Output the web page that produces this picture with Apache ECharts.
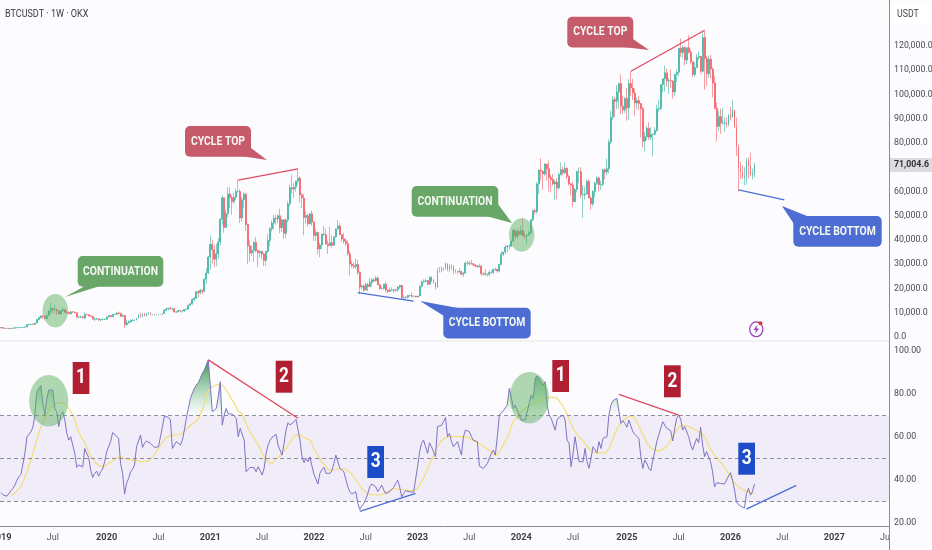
<!DOCTYPE html>
<html><head><meta charset="utf-8">
<style>html,body{margin:0;padding:0;background:#fcfbfe}#c{width:932px;height:550px}</style>
<script src="https://cdn.jsdelivr.net/npm/echarts@6/dist/echarts.min.js"></script>
</head><body><div id="c"></div>
<script>
// weekly candles, thousands of USDT, week 0 = 2018-12-31
const firstOpen = 3.7;
const closes = [
3.9,3.6,3.55,3.55,3.45,3.65,3.6,3.85,3.85,3.9,
3.95,3.98,4.1,5.05,5.15,5.3,5.15,5.75,7.2,8.0,
8.7,8.55,7.6,8.9,10.7,11.9,11.3,11.4,10.8,9.5,
10.8,11.3,10.2,10.1,9.6,10.4,10.3,10.0,8.2,8.2,
8.3,7.95,9.25,9.2,8.8,8.5,7.3,7.4,7.5,7.1,
7.2,7.25,7.35,8.2,8.9,8.35,9.3,9.35,9.9,9.7,
8.5,8.9,5.2,5.8,6.2,6.8,6.9,7.0,7.7,8.8,
8.7,9.3,8.7,9.45,9.7,9.3,9.3,9.0,9.1,9.3,
9.2,9.7,11.0,11.6,11.9,11.6,11.7,10.3,10.3,10.9,
10.7,10.7,11.3,11.5,13.1,13.7,15.5,16.0,18.7,18.2,
19.2,18.8,23.8,26.4,33.0,38.2,36.0,32.1,34.3,39.2,
48.6,57.4,45.2,50.9,59.0,57.4,55.8,57.6,60.0,60.0,
49.1,56.6,58.9,46.4,37.5,34.6,35.8,39.0,35.6,34.7,
35.3,34.2,31.5,35.4,39.8,44.6,47.0,49.0,48.8,50.0,
45.0,48.3,42.7,48.2,54.9,61.5,61.0,61.8,64.3,65.5,
58.6,57.3,49.3,50.1,46.7,50.8,47.3,41.9,43.1,36.3,
37.9,42.4,42.2,38.4,37.7,38.9,37.8,41.3,44.5,45.8,
42.2,40.4,39.5,38.5,34.3,30.1,29.4,29.0,29.9,26.6,
20.6,21.0,19.3,21.6,20.8,22.6,23.6,23.2,24.3,21.5,
20.0,20.0,21.8,19.4,18.8,19.3,19.4,19.3,19.6,20.6,
21.3,16.3,16.3,16.4,17.1,17.1,16.8,16.8,16.5,16.9,
20.9,22.7,23.0,23.3,21.8,24.6,23.2,22.4,20.5,27.4,
27.5,28.4,28.3,30.3,27.8,29.2,28.8,26.9,27.1,26.9,
27.1,25.9,26.3,30.5,30.5,30.3,30.3,29.8,29.3,29.0,
29.3,26.1,26.1,25.8,25.8,26.6,26.6,27.9,27.9,27.2,
29.9,34.1,35.0,37.1,37.4,37.4,39.5,44.0,41.4,43.6,
42.3,43.9,41.7,41.6,42.0,43.0,48.3,52.1,51.7,63.1,
68.9,68.4,67.2,71.3,69.4,65.7,64.9,63.1,63.9,61.5,
67.0,69.0,67.7,69.6,66.2,63.2,62.7,55.8,60.8,68.2,
68.2,58.7,58.7,59.0,64.2,57.3,54.9,60.0,63.4,65.6,
62.8,62.9,69.0,68.0,69.4,80.4,90.6,97.9,97.2,101.1,
104.5,95.2,93.7,98.4,94.5,104.5,102.7,100.6,96.5,97.5,
96.3,94.2,80.7,82.6,86.1,82.4,83.5,83.7,85.2,94.0,
94.3,104.1,106.5,109.0,105.6,105.7,105.5,101.0,108.3,109.2,
119.1,117.3,119.4,114.2,119.3,117.4,113.5,108.2,111.1,115.3,
115.7,109.6,123.5,114.8,108.6,114.5,110.5,104.7,94.3,86.8,
90.9,88.2,88.2,88.3,87.5,91.5,90.6,93.6,86.6,78.6,
69.5,68.0,66.0,66.5,72.8,70.5,66.8,67.5,71.0046];
const highs = [
4.05,4.1,3.7,3.65,3.6,3.7,3.7,4.2,3.95,3.95,
4.0,4.05,4.3,5.3,5.4,5.4,5.6,5.85,7.5,8.4,
8.95,9.1,8.8,9.1,11.2,13.9,12.0,13.2,11.1,10.9,
11.0,12.3,11.5,10.9,10.6,10.8,10.5,10.4,10.1,8.5,
8.7,8.5,10.4,9.5,9.4,8.9,8.6,7.9,7.8,7.6,
7.5,7.7,7.6,8.5,8.95,8.9,9.5,9.6,10.2,10.5,
10.0,9.2,8.9,6.9,6.9,7.3,7.4,7.3,7.8,9.4,
10.1,9.9,9.9,9.9,10.4,10.2,9.6,9.5,9.3,9.5,
9.4,9.8,11.4,12.1,12.1,12.5,11.8,12.0,10.6,11.1,
11.0,10.9,11.5,11.7,13.3,14.0,15.9,16.5,18.9,19.4,
19.9,19.5,24.2,28.4,33.4,41.9,40.0,37.9,38.5,40.9,
48.9,58.4,57.5,52.6,61.8,61.8,58.4,59.5,61.2,64.9,
61.0,57.9,59.6,59.5,46.7,39.9,37.9,39.5,41.3,36.0,
36.0,35.1,34.7,35.5,42.5,45.3,48.2,50.5,50.5,50.5,
52.9,48.8,48.5,49.0,56.0,62.9,67.0,63.6,64.3,69.0,
66.3,59.5,59.0,51.9,50.8,51.0,52.1,47.9,44.4,43.5,
38.9,42.6,45.8,44.7,39.8,45.4,42.0,41.5,44.9,48.2,
47.0,42.4,42.9,40.8,39.9,35.5,31.4,30.7,32.4,31.8,
27.0,21.7,21.9,22.4,22.4,24.3,24.2,24.2,25.2,25.0,
21.8,20.6,21.9,22.7,19.7,20.4,20.5,19.9,19.7,21.0,
21.0,21.5,17.2,16.8,17.4,17.4,18.4,16.9,17.0,17.0,
21.3,23.3,23.8,24.2,23.4,25.2,25.0,23.9,22.2,28.5,
28.9,29.2,28.6,30.8,30.3,30.1,29.9,29.7,28.0,27.2,
28.4,27.1,26.8,31.0,31.4,31.5,31.8,30.2,29.9,29.7,
30.2,29.7,26.8,28.1,26.2,27.5,27.4,28.0,28.6,28.0,
30.3,35.3,35.0,38.0,37.9,38.4,40.2,44.7,43.4,44.7,
44.0,45.9,49.0,43.0,42.2,43.8,48.5,52.8,52.9,64.0,
69.0,73.7,68.0,71.8,71.0,72.7,66.9,67.2,64.7,65.5,
67.7,71.9,70.4,72.0,70.0,66.9,63.4,63.9,61.5,68.5,
69.9,70.0,62.7,61.8,65.0,65.0,58.0,60.6,64.0,66.3,
66.0,64.5,69.4,69.5,73.6,81.5,93.3,99.5,99.0,103.9,
105.0,108.3,99.5,98.9,102.7,106.3,109.6,106.5,102.5,98.8,
99.5,96.5,95.0,84.5,87.0,88.6,86.5,84.0,86.5,95.7,
97.9,104.2,105.8,111.9,110.7,106.8,110.3,106.0,108.5,110.5,
119.2,123.2,120.2,119.8,119.3,124.4,118.5,113.4,113.4,116.7,
117.9,115.5,125.7,126.3,115.9,116.0,116.4,111.2,107.5,96.7,
93.1,94.2,94.5,90.6,90.5,92.0,94.8,97.9,90.4,90.5,
79.4,72.3,70.8,70.0,73.8,74.0,76.0,69.5,72.0];
const lows = [
3.65,3.55,3.5,3.5,3.35,3.4,3.55,3.6,3.7,3.7,
3.8,3.9,3.95,4.1,4.9,5.0,5.1,5.1,5.7,6.9,
7.5,7.45,7.45,7.5,8.9,9.7,9.7,10.0,9.1,9.2,
9.2,10.3,9.8,9.5,9.3,9.4,9.9,9.9,7.7,7.7,
7.8,7.6,7.3,9.0,8.4,8.4,7.2,6.5,7.0,6.5,
6.4,7.0,6.9,7.2,8.1,8.2,8.3,9.1,9.1,9.3,
8.4,8.4,3.8,4.4,5.7,5.9,6.5,6.5,6.8,7.6,
8.1,8.2,8.6,8.6,9.2,8.9,8.9,8.9,8.9,8.9,
9.0,9.1,9.6,10.7,10.95,11.3,11.1,10.1,9.9,10.2,
10.1,10.1,10.5,11.2,11.4,12.9,13.3,14.7,15.7,16.2,
17.6,17.6,18.7,21.9,25.9,27.7,30.3,28.8,29.2,32.3,
37.9,46.2,43.0,45.0,49.3,53.2,50.4,54.9,56.5,59.5,
47.0,47.5,53.2,43.8,30.0,31.0,33.4,31.0,34.8,28.8,
32.7,32.1,29.3,29.3,34.7,37.3,43.5,44.4,46.3,46.9,
42.8,43.3,40.6,40.8,47.2,53.9,58.9,57.3,60.0,62.8,
55.5,53.2,42.0,46.8,45.5,46.4,46.0,39.6,39.6,34.0,
32.9,36.3,41.6,38.0,34.3,37.5,37.0,37.6,40.9,44.9,
42.0,39.3,38.5,37.5,33.6,25.4,28.6,28.1,28.1,25.7,
17.6,19.6,18.6,19.3,18.9,20.7,20.7,22.4,22.8,21.3,
19.5,19.5,19.5,18.3,18.1,18.5,19.0,18.2,18.7,18.6,
20.0,15.6,15.5,15.5,16.0,16.7,16.3,16.4,16.3,16.4,
17.0,20.4,22.3,22.6,21.4,21.5,22.7,22.0,19.6,20.3,
26.6,26.6,27.2,27.8,27.1,26.9,27.7,25.8,26.3,25.9,
26.5,25.4,24.8,26.2,29.5,29.5,29.7,29.2,28.9,28.6,
28.7,25.2,25.4,25.3,24.9,25.0,26.0,26.0,27.2,26.5,
26.8,29.7,33.4,34.1,35.0,36.0,37.2,39.0,40.2,40.6,
41.4,42.6,41.5,40.2,38.5,41.9,42.3,47.7,50.5,50.9,
59.0,64.6,60.8,66.5,64.5,60.0,59.6,62.4,56.5,56.9,
60.6,66.5,66.6,67.3,65.0,62.4,58.4,53.5,55.7,59.6,
63.5,57.1,49.1,56.8,58.8,57.2,52.5,53.9,57.5,62.7,
60.0,60.7,62.0,65.1,66.8,67.5,79.6,89.4,90.8,94.0,
94.2,92.2,92.0,92.5,89.2,89.5,99.5,97.7,91.2,94.0,
93.5,82.2,78.2,76.6,81.1,81.3,81.2,74.4,83.1,84.6,
92.9,93.4,100.8,101.2,103.1,100.4,102.6,98.2,99.5,105.1,
107.5,115.5,114.9,112.0,112.6,116.9,112.4,107.3,107.3,110.9,
114.3,108.7,109.1,102.0,103.5,106.8,106.4,98.9,93.9,80.6,
85.0,83.8,87.5,84.5,86.4,86.8,89.3,92.5,86.1,74.6,
60.0,65.1,65.2,62.5,62.9,65.5,66.5,65.0,65.8];
const rsi = [
34,33,32.5,32.3,32.4,34.9,36,37.5,39.8,41.4,
42.5,43.3,52.3,60,60.4,62.4,64.5,70.2,81.1,82.7,
84,75.7,70.2,78,81.9,82.2,81.9,73.3,71.8,64.8,
70.2,71.8,67.9,61.7,58.5,60.1,60.9,52.3,45.8,46.9,
47.6,46,54.6,52.3,50.4,44.5,41.1,43,44,41.7,
43.7,45,48.4,53.1,52.3,57.8,62,61.3,60.4,59.3,
47.6,43,33.3,38.3,40.6,43.7,44.8,46.9,55.4,55.1,
60.9,55.1,57,58.1,57.8,57,56.2,55.1,54.2,55.4,
60.1,64.8,69.8,70.4,69.1,67.9,54.6,54.6,57.8,57.8,
56.2,58.5,63.2,68.7,73.3,78,80.4,82.7,84.2,85.3,
85.8,89.7,91.3,93.6,96,84.2,71.8,72.2,73.3,78.8,
85.8,65.5,70.2,73.3,70.7,70.2,70.7,71.3,68.7,60.1,
64,63.2,58.5,43.7,44.8,45.8,46.1,45.6,43.7,46.1,
44.2,42.2,45.3,52.3,56.2,58.5,59.8,60.1,61.2,56.2,
57,51.5,57,63.2,66.6,65.6,66.3,67.1,68.2,68.7,
58.5,50.8,48,50,48.4,50.7,46.4,42.6,43.3,38,
43,44.8,45.8,43,43,43,44.2,47.6,51.5,50.8,
45.3,44.8,43.7,40.2,36.7,34.4,33.3,33.1,34.4,29,
26.1,27.7,28.9,30.8,33.6,36.7,38,38.7,36.7,34.4,
36,37.5,35.2,33.6,33.9,34.4,35.2,36.4,38.3,39.8,
36.7,32,33.6,34.9,34.9,34.4,34.4,34.2,34.4,46.1,
53.1,57,58.5,55.4,52.3,57.3,55.4,53.1,50.8,64.8,
65.1,65.4,67.1,69.1,60.1,61.7,57.8,55.4,55.4,57.8,
54.6,51.5,60.1,63.2,62.9,62.4,60.1,58.5,57.8,57.8,
46.4,45.8,45.3,44.8,47.6,47.3,52.3,53.9,51.5,60.1,
70.2,70.7,72.2,72.9,74.9,82.7,78.8,73.3,74.9,72.6,
73.3,67.9,67.1,67.9,67.1,75.7,79.6,78,87.4,88.5,
87.4,85.8,84.2,85.8,74.9,70.2,68.7,67.9,63.2,67.9,
69.1,69.1,70.2,67.9,58.5,57,46.1,52.3,60.1,60.9,
48.4,48.4,48.4,54.6,48.4,45.3,50,55.4,56.2,52.6,
57.8,54.6,59.3,58.8,60.1,70.2,74.9,76.9,77.2,78,
78.8,66.3,67.6,66.3,64.5,67.9,68.7,62.4,61.2,60.4,
59.3,50.8,45.3,49.2,47.6,45.3,44.2,49.2,53.1,57.8,
58.2,64,67.1,67.9,64,63.5,62.9,58.1,64,68.7,
70.2,68.2,63.2,64.8,65.1,60.1,56.2,53.9,56.7,59.3,
57.3,64.5,56.2,50.8,53.1,53.9,48.4,43.7,36.7,38.6,
39.1,38.3,38,38,38.3,41.7,43.3,39.8,35.2,29.4,
28.6,27.7,27.1,26.8,33.6,36,32.8,34.4,38];
const rsiMa = [
null,null,null,null,null,32.4,33,33.9,34.9,35.6,
36.7,39,41.4,43.4,46.4,49.2,52,55.4,58.8,62,
64.5,67.1,69.1,70.5,72.2,73.7,74.7,75.4,76,76.1,
76.1,76,75.4,74.6,73.3,71.8,70.2,67.9,65.1,62.4,
60.4,58.8,57.3,55.1,53.1,51.2,50,48.4,47.3,46.5,
46.1,45.9,46.4,47,47.6,48.3,48.9,49.5,50.1,50.7,
50.7,50.4,50,49.7,49.5,49.3,49.2,49,48.9,48.7,
48.6,48.4,48.4,48.3,48.7,49.7,50.7,51.8,53.1,54.6,
56,57.4,58.8,59.8,60.4,60.7,60.9,60.9,60.9,60.9,
61.3,62,62.9,63.5,64.5,65.1,66,66.6,67.4,68.7,
70.7,72.6,75.7,79.6,81.6,82.7,83.5,83.9,84.2,84.6,
84.7,84.2,83.2,81.9,80.4,78.8,77.2,75.7,74.1,72.2,
71.3,70.7,69.8,66.3,64,62.4,60.9,59.3,57.8,56.5,
54.6,52.3,50.8,49.5,48.3,47.6,47.6,48.4,49.5,50.3,
51.2,52.3,53.1,54.6,56.2,57.4,58.8,60.1,60.9,61.2,
60.9,60.4,59.8,59.2,58.8,58.5,57,54.6,52.6,51.2,
50,48.4,47.3,46.1,44.8,44.2,44.4,44.7,44.8,45,
45.1,45.3,45.1,44.7,44.2,43.7,42.6,41.4,40.2,38.6,
37.2,35.8,34.9,34.2,33.6,33.3,33.1,33,32.8,32.8,
32.8,33.1,33.5,33.9,34.4,35,35.5,36,36,35.6,
35.5,35.5,35.3,35.2,35,34.9,34.9,34.9,34.9,36,
37.5,39,40.9,43,45.3,47.3,49.2,51.5,53.9,55.7,
57,58.1,59,59.8,60,60,60.1,60.1,60.1,60.1,
60.1,60.1,60.1,60.1,59.8,59.3,58.5,58.2,57.8,57.4,
57,56.2,55.7,55.1,54.6,53.9,52.8,52,51.2,51.5,
53.1,54.6,56.2,57.8,59.3,61.7,64.8,67.1,68.2,69.4,
70.7,71.8,72.6,73.3,73.8,74.4,74.9,75.4,76,76.3,
76.8,77.2,77.9,78.3,78.5,78.5,78.5,78.5,78.3,78,
76.9,75.7,74.1,72.6,70.7,68.4,66,64,62.4,61.2,
60.1,59,58.1,57,55.7,54.6,53.9,53.1,52.6,52.3,
52.3,52.6,52.6,52.3,52.6,54.6,56.7,58.8,61.7,63.5,
65.1,66.3,67.6,68.5,69.1,69.4,69.8,69.4,69,67.1,
65.1,62.9,61.3,59.3,57.4,55.9,54.8,54.2,53.7,53.4,
53.4,53.9,54.3,54.8,55.4,56.7,58.5,60.1,61.7,63.2,
64.5,65.1,65.4,65.6,65.2,64.8,64.3,63.8,63.5,63.1,
62.4,61.7,61.2,60.6,58.5,56.2,54.2,52.8,51.5,50.4,
49.2,48,46.9,45.8,44.5,43,41.4,39.8,38.6,37.5,
36.7,36,35.5,34.9,34.4,34.2,34.1,33.9,33.9];

const weekCount = 446;
const tickWeeks = [0,26,53,79,105,131,157,183,209,235,261,287,314,340,366,392,418,444];
const tickTexts = ['2019','Jul','2020','Jul','2021','Jul','2022','Jul','2023','Jul','2024','Jul','2025','Jul','2026','Jul','2027','Jul'];
const priceTicks = [0,10000,20000,30000,40000,50000,60000,71004.6,80000,90000,100000,110000,120000];
const rsiTicks = [20,40,60,80,100];
const rsiBands = [70,50,30];

// drawn trend lines: [pane, colour, week A, value A, week B, value B]
const trendLines = [
 [0,'#e04a5f',119,64700,149,69300],
 [0,'#4a6fd8',179,18300,207,14800],
 [0,'#e04a5f',316,109600,353,126500],
 [0,'#4a6fd8',370,60700,393,56500],
 [1,'#e04a5f',104,96,149,68.7],
 [1,'#4a6fd8',180,25.2,208,33.6],
 [1,'#e04a5f',310,79.9,340,70.2],
 [1,'#4a6fd8',374,26.3,399,37.4]
];

const callouts = [
 {t:'CONTINUATION',c:'#68a768',r:[77.7,256,85.6,30.7],p:[[85,286],[100,286],[65,297]]},
 {t:'CYCLE TOP',c:'#c65b6c',r:[185,126,66,30.7],p:[[251,148],[241,156],[267,160]]},
 {t:'CYCLE BOTTOM',c:'#4d6dd5',r:[443.3,307.7,87.4,30.7],p:[[444,316],[458,308],[420,301]]},
 {t:'CONTINUATION',c:'#68a768',r:[411.7,186,86.6,30.7],p:[[498,204],[486,216],[512,223]]},
 {t:'CYCLE TOP',c:'#c65b6c',r:[567.3,16.7,66,30.7],p:[[633,39],[623,47],[649,50]]},
 {t:'CYCLE BOTTOM',c:'#4d6dd5',r:[793.3,216,88.4,30.7],p:[[794,224],[807,216],[782,206]]}
];
const ellipses = [[55.3,310.7,12.7,16.7],[521.7,235,12.7,16.7],[48.7,400.7,19.5,25.7],[529.3,397.7,19.5,25.7]];
const badges = [
 ['1','#b01f32',72.7,362],['2','#b01f32',275.7,360.7],['3','#1c4cc8',367.3,446],
 ['1','#b01f32',552.3,360],['2','#b01f32',664,365.3],['3','#1c4cc8',738.3,442.7]
];

const FONT = 'Roboto,"Liberation Sans",sans-serif';
const categories = Array.from({length:weekCount},(_,i)=>String(i));
const candles = closes.map((c,i)=>[(i?closes[i-1]:firstOpen)*1000,c*1000,lows[i]*1000,highs[i]*1000]);
const lastPrice = 71004.6;
const fmtPrice = v=>v.toLocaleString('en-US',{minimumFractionDigits:1,maximumFractionDigits:1});

const series = [
 {type:'candlestick',xAxisIndex:0,yAxisIndex:0,data:candles,barWidth:1.4,z:3,
  itemStyle:{color:'#1fa793',color0:'#f0454c',borderColor:'#1fa793',borderColor0:'#f0454c',borderWidth:0.5}},
 {type:'line',xAxisIndex:1,yAxisIndex:1,data:rsi.map(()=>70),stack:'ob',symbol:'none',silent:true,lineStyle:{width:0},z:2},
 {type:'line',xAxisIndex:1,yAxisIndex:1,data:rsi.map(v=>Math.max(v-70,0)),stack:'ob',symbol:'none',silent:true,lineStyle:{width:0},z:2,
  areaStyle:{opacity:1,color:{type:'linear',x:0,y:360,x2:0,y2:415,global:true,colorStops:[
    {offset:0,color:'rgba(46,135,70,0.95)'},{offset:0.55,color:'rgba(100,180,120,0.5)'},{offset:1,color:'rgba(130,210,150,0)'}]}}},
 {type:'line',xAxisIndex:1,yAxisIndex:1,data:rsiMa,symbol:'none',z:4,connectNulls:false,lineStyle:{color:'#f5de72',width:1.2}},
 {type:'line',xAxisIndex:1,yAxisIndex:1,data:rsi,symbol:'none',z:5,lineStyle:{color:'#8172c4',width:1},
  markArea:{silent:true,itemStyle:{color:'rgba(126,87,194,0.09)'},data:[[{yAxis:70},{yAxis:30}]]},
  markLine:{silent:true,symbol:'none',label:{show:false},lineStyle:{color:'#8d8ca0',type:[4,3],width:1},
    data:rsiBands.map(v=>({yAxis:v}))}}
];
trendLines.forEach(t=>series.push({type:'line',xAxisIndex:t[0],yAxisIndex:t[0],symbol:'none',z:7,silent:true,
  lineStyle:{color:t[1],width:1.3},data:[[t[2],t[3]],[t[4],t[5]]]}));

const gfx = [];
gfx.push({type:'rect',z:2,silent:true,shape:{x:889.5,y:0,width:43,height:550},style:{fill:'#fcfbfe'}});
gfx.push({type:'line',z:1,silent:true,shape:{x1:0,y1:341,x2:889,y2:341},style:{stroke:'#e6e5ea',lineWidth:1}});
gfx.push({type:'line',z:4,silent:true,shape:{x1:889.5,y1:0,x2:889.5,y2:550},style:{stroke:'#8a8a90',lineWidth:1}});
gfx.push({type:'rect',z:4,silent:true,shape:{x:891,y:3,width:41,height:21},style:{fill:'#ffffff'}});
gfx.push({type:'rect',z:4,silent:true,shape:{x:890,y:158,width:42,height:14},style:{fill:'#dcdce0'}});
gfx.push({type:'text',z:5,silent:true,x:897,y:9,scaleX:0.88,style:{text:'USDT',fill:'#444',font:'10px '+FONT}});
gfx.push({type:'text',z:12,silent:true,x:5,y:9,scaleX:0.86,style:{text:'BTCUSDT · 1W · OKX',fill:'#3a3a40',font:'10.5px '+FONT}});
ellipses.forEach(e=>gfx.push({type:'ellipse',z:9,silent:true,shape:{cx:e[0],cy:e[1],rx:e[2],ry:e[3]},style:{fill:'rgba(96,180,100,0.5)'}}));
callouts.forEach(c=>{
  gfx.push({type:'polygon',z:10,silent:true,shape:{points:c.p},style:{fill:c.c}});
  gfx.push({type:'rect',z:10,silent:true,shape:{x:c.r[0],y:c.r[1],width:c.r[2],height:c.r[3],r:5},style:{fill:c.c}});
  gfx.push({type:'text',z:11,silent:true,x:c.r[0]+c.r[2]/2,y:c.r[1]+c.r[3]/2,scaleX:0.8,
    style:{text:c.t,fill:'#f4f7f2',font:'bold 13px '+FONT,align:'center',verticalAlign:'middle'}});
});
badges.forEach(b=>{
  gfx.push({type:'rect',z:10,silent:true,shape:{x:b[2],y:b[3],width:16.7,height:32},style:{fill:b[1]}});
  gfx.push({type:'text',z:11,silent:true,x:b[2]+8.35,y:b[3]+16,scaleX:0.82,style:{text:b[0],fill:'#fff',font:'bold 21px '+FONT,align:'center',verticalAlign:'middle'}});
});
gfx.push({type:'ellipse',z:10,silent:true,shape:{cx:756.3,cy:329.3,rx:6.6,ry:7.4},style:{fill:'none',stroke:'#9c3fb8',lineWidth:1.3}});
gfx.push({type:'polygon',z:10,silent:true,shape:{points:[[757.5,324.5],[753.5,330],[756,330],[755,334],[759,328.5],[756.5,328.5]]},style:{fill:'#9c3fb8'}});
gfx.push({type:'circle',z:11,silent:true,shape:{cx:760.5,cy:323.3,r:2},style:{fill:'#d8383c'}});

const xCommon = {type:'category',data:categories,boundaryGap:true,axisTick:{show:false},splitLine:{show:false}};
const chart = echarts.init(document.getElementById('c'),null,{renderer:'canvas'});
chart.setOption({
 animation:false,
 backgroundColor:'#fcfbfe',
 grid:[{left:0,right:43,top:0,height:341,outerBoundsMode:'none'},{left:0,right:43,top:341,height:185,outerBoundsMode:'none'}],
 xAxis:[
  Object.assign({},xCommon,{gridIndex:0,axisLine:{show:false},axisLabel:{show:false}}),
  Object.assign({},xCommon,{gridIndex:1,z:1,axisLine:{lineStyle:{color:'#8a8a90',width:1}},
    axisLabel:{show:true,margin:7,hideOverlap:false,showMinLabel:true,showMaxLabel:true,
      interval:i=>tickWeeks.indexOf(i)>=0,
      formatter:(v,i)=>{const k=tickWeeks.indexOf(+v);if(k<0)return '';const s=tickTexts[k];return s==='Jul'?'{m|Jul}':'{y|'+s+'}';},
      rich:{y:{fontFamily:FONT,fontSize:9.2,fontWeight:'bold',color:'#3c3c44'},m:{fontFamily:FONT,fontSize:9,color:'#55555e'}}}})
 ],
 yAxis:[
  {type:'value',gridIndex:0,position:'right',z:5,min:-1650,max:138970,splitLine:{show:false},axisLine:{show:false},axisTick:{show:false},
   axisLabel:{margin:5,customValues:priceTicks,
     formatter:v=>Math.abs(v-lastPrice)<1?'{p|'+fmtPrice(v)+'}':'{n|'+fmtPrice(v)+'}',
     rich:{n:{fontFamily:FONT,fontSize:8.8,color:'#4a4a52'},p:{fontFamily:FONT,fontSize:8.8,fontWeight:'bold',color:'#2f2f36'}}}},
  {type:'value',gridIndex:1,position:'right',z:5,min:18.4,max:104.8,splitLine:{show:false},axisLine:{show:false},axisTick:{show:false},
   axisLabel:{margin:5,customValues:rsiTicks,formatter:v=>v.toFixed(2),fontFamily:FONT,fontSize:8.8,color:'#4a4a52'}}
 ],
 graphic:{elements:gfx},
 series
});
</script></body></html>
